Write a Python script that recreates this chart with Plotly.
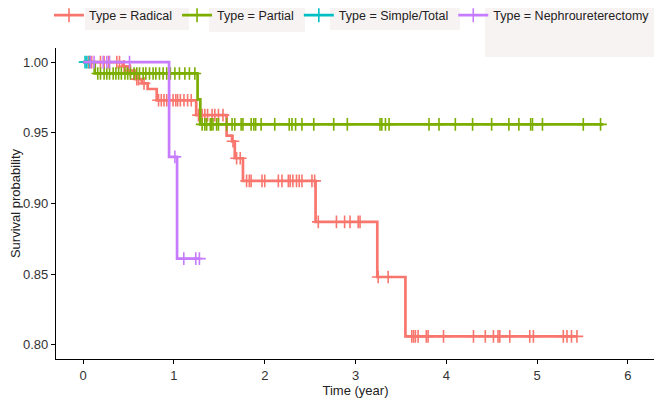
import plotly.graph_objects as go

# ---- data (time in years, survival probability) ----
groups = ["Radical", "Partial", "Simple/Total", "Nephroureterectomy"]
colors = ["#F8766D", "#7CAE00", "#00BFC4", "#C77CFF"]

radical_times = [0, 0.435, 0.49, 0.57, 0.645, 0.71, 0.81, 1.245, 1.58, 1.64, 1.67, 1.76, 2.56, 3.24, 3.55, 5.44]
radical_surv = [1.0, 0.997, 0.994, 0.988, 0.985, 0.981, 0.973, 0.9625, 0.948, 0.944, 0.932, 0.916, 0.887, 0.848, 0.806, 0.806]
radical_cens = [0.06, 0.093, 0.19, 0.23, 0.28, 0.37, 0.40, 0.45, 0.52, 0.59, 0.61, 0.67,
                0.83, 0.86, 0.89, 0.92, 0.95, 0.99, 1.02, 1.04, 1.07, 1.11, 1.15, 1.19,
                1.27, 1.31, 1.34, 1.37, 1.42, 1.45, 1.49, 1.54, 1.65, 1.69, 1.73,
                1.80, 1.83, 1.85, 1.97, 2.00, 2.15, 2.19, 2.26, 2.28, 2.31, 2.35, 2.38, 2.41, 2.52, 2.55,
                2.59, 2.79, 2.88, 2.94, 3.03, 3.05, 3.25, 3.36,
                3.62, 3.64, 3.66, 3.69, 3.78, 3.80, 3.97, 4.30, 4.43, 4.52, 4.57, 4.59, 4.70,
                4.92, 4.96, 5.29, 5.33, 5.38, 5.44]

partial_times = [0, 0.127, 1.26, 1.29, 5.73]
partial_surv = [1.0, 0.992, 0.9736, 0.956, 0.956]
partial_cens = [0.16, 0.19, 0.23, 0.26, 0.29, 0.33, 0.36, 0.39, 0.42, 0.46, 0.49, 0.52, 0.56,
                0.59, 0.62, 0.66, 0.69, 0.73, 0.77, 0.80, 0.84, 0.88, 0.92, 0.96, 1.01,
                1.06, 1.12, 1.17, 1.23,
                1.31, 1.34, 1.36, 1.40, 1.41, 1.43, 1.47, 1.49, 1.58, 1.64, 1.67, 1.74, 1.76,
                1.85, 1.88, 1.90, 1.96, 2.11, 2.27, 2.30, 2.34, 2.41, 2.54, 2.76, 2.91,
                3.27, 3.29, 3.33, 3.37, 3.81, 3.92, 4.10, 4.29, 4.50, 4.69, 4.80, 4.93, 4.95,
                5.06, 5.51, 5.70]

simple_times = [0, 0.07]
simple_surv = [1.0, 1.0]
simple_cens = [0.02, 0.04, 0.07]

nephro_times = [0, 0.946, 1.034, 1.28]
nephro_surv = [1.0, 0.933, 0.861, 0.861]
nephro_cens = [0.08, 0.12, 0.22, 0.26, 0.29, 0.51, 1.01, 1.108, 1.24, 1.28]

series = [
    (radical_times, radical_surv, radical_cens),
    (partial_times, partial_surv, partial_cens),
    (simple_times, simple_surv, simple_cens),
    (nephro_times, nephro_surv, nephro_cens),
]


def surv_at(times, surv, t):
    s = surv[0]
    for ti, si in zip(times, surv):
        if ti <= t:
            s = si
    return s


# The page places the figure 8 px in from the window's top-left corner,
# so layout pixels are window pixels minus this offset.
OFF = 8
W, H = 662, 400
L, R, T, B = 48, 15, 40, 49
pw, ph = W - L - R, H - T - B


def px_x(p):  # window pixel -> paper x
    return (p - OFF - L) / pw


def px_y(p):  # window pixel -> paper y
    return (H - B - (p - OFF)) / ph


fig = go.Figure()
for name, col, (tt, ss, cc) in zip(groups, colors, series):
    fig.add_trace(go.Scatter(x=tt, y=ss, mode="lines", line=dict(color=col, width=2.7, shape="hv"),
                             showlegend=False, hoverinfo="skip"))
    fig.add_trace(go.Scatter(x=cc, y=[surv_at(tt, ss, c) for c in cc], mode="markers",
                             marker=dict(symbol="cross-thin", size=9, line=dict(color=col, width=1.6)),
                             showlegend=False, hoverinfo="skip"))
    fig.add_trace(go.Scatter(x=[None], y=[None], mode="lines+markers", name="Type = " + name,
                             line=dict(color=col, width=2.7),
                             marker=dict(symbol="cross-thin", size=10, line=dict(color=col, width=1.6))))

# faint background boxes behind the legend labels, as in the reference
boxes = [(85, 189, 8, 30), (209, 305, 8, 32), (330, 460, 8, 30), (485, 662, 8, 57)]
for x0, x1, y0, y1 in boxes:
    fig.add_shape(type="rect", xref="paper", yref="paper", x0=px_x(x0), x1=px_x(x1),
                  y0=px_y(y1), y1=px_y(y0), fillcolor="#f8f3f3", line=dict(width=0), layer="below")

fig.update_layout(
    width=W, height=H,
    margin=dict(l=L, r=R, t=T, b=B, autoexpand=False),
    paper_bgcolor="white", plot_bgcolor="rgba(0,0,0,0)",
    font=dict(family="Liberation Sans, Arial, sans-serif", size=13, color="#222222"),
    legend=dict(orientation="h", x=px_x(49), xanchor="left", y=px_y(0.5), yanchor="top",
                font=dict(size=12.5, color="#222222"), bgcolor="rgba(0,0,0,0)",
                itemwidth=30, tracegroupgap=0),
)
fig.update_xaxes(range=[-0.3, 6.3], tickvals=[0, 1, 2, 3, 4, 5, 6], showline=True, linecolor="black",
                 linewidth=1.2, ticks="outside", ticklen=4, tickcolor="black", showgrid=False, zeroline=False,
                 title=dict(text="Time (year)", standoff=3, font=dict(size=13)),
                 tickfont=dict(size=13, color="#333333"))
fig.update_yaxes(range=[0.79, 1.01], tickvals=[0.80, 0.85, 0.90, 0.95, 1.00], tickformat=".2f",
                 showline=True, linecolor="black", linewidth=1.2, ticks="outside", ticklen=4, tickcolor="black",
                 showgrid=False, zeroline=False,
                 title=dict(text="Survival probability", standoff=7, font=dict(size=13)),
                 tickfont=dict(size=13, color="#333333"))

fig.write_html("out.html")
